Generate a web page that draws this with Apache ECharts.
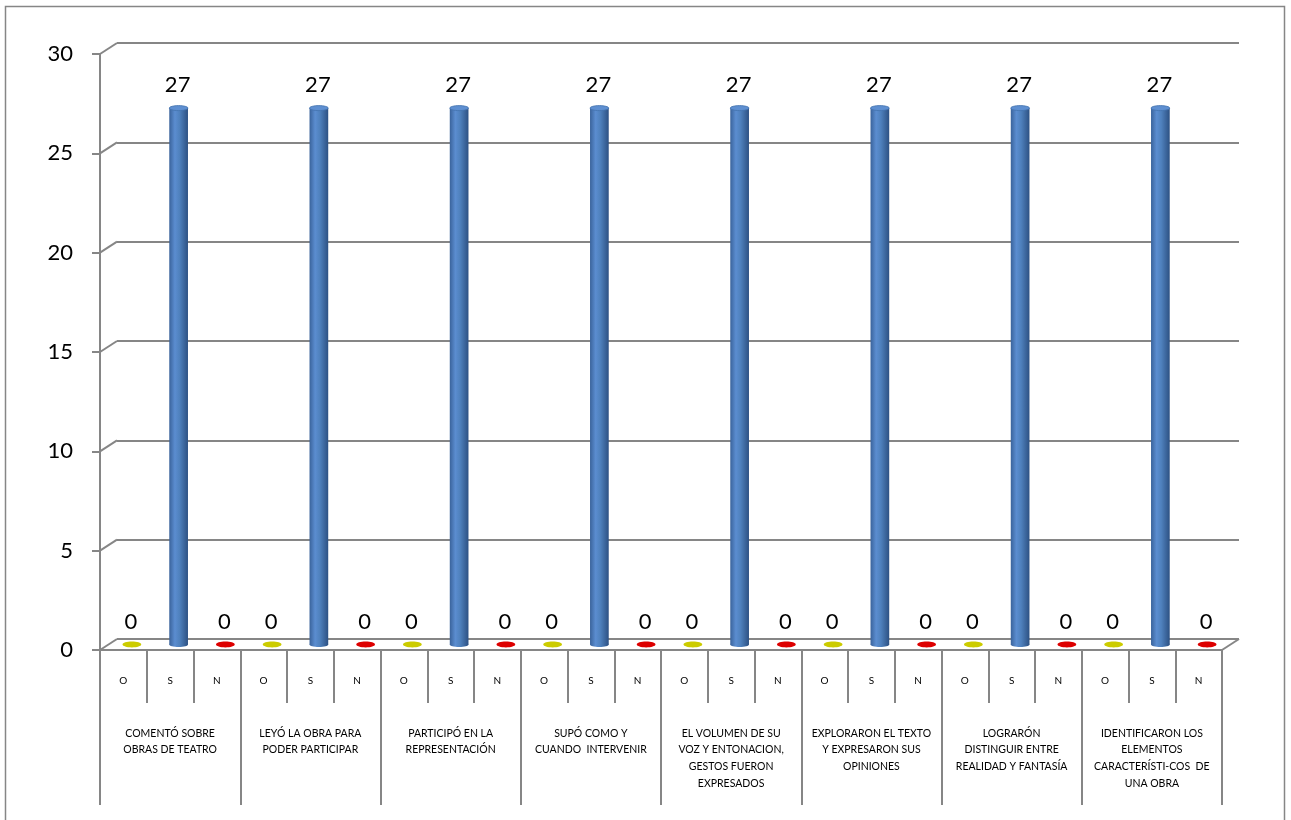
<!DOCTYPE html>
<html><head><meta charset="utf-8">
<script src="https://cdn.jsdelivr.net/npm/echarts@6/dist/echarts.min.js"></script>
<style>html,body{margin:0;padding:0;background:#fff}#c{width:1291px;height:820px}</style>
</head><body><div id="c"></div>
<script>
const groups = [
  'COMENTÓ SOBRE\nOBRAS DE TEATRO',
  'LEYÓ LA OBRA PARA\nPODER PARTICIPAR',
  'PARTICIPÓ EN LA\nREPRESENTACIÓN',
  'SUPÓ COMO Y\nCUANDO  INTERVENIR',
  'EL VOLUMEN DE SU\nVOZ Y ENTONACION,\nGESTOS FUERON\nEXPRESADOS',
  'EXPLORARON EL TEXTO\nY EXPRESARON SUS\nOPINIONES',
  'LOGRARÓN\nDISTINGUIR ENTRE\nREALIDAD Y FANTASÍA',
  'IDENTIFICARON LOS\nELEMENTOS\nCARACTERÍSTI-COS  DE\nUNA OBRA'
];
const subLabels = ['O', 'S', 'N'];
const valuesO = [0, 0, 0, 0, 0, 0, 0, 0];
const valuesS = [27, 27, 27, 27, 27, 27, 27, 27];
const valuesN = [0, 0, 0, 0, 0, 0, 0, 0];
const yTicks = [0, 5, 10, 15, 20, 25, 30];

const seriesValues = [valuesO, valuesS, valuesN];
const subCats = [];
const pointData = [];
groups.forEach((g, i) => {
  subLabels.forEach((s, j) => {
    subCats.push(s);
    pointData.push([subCats.length - 1, seriesValues[j][i], j]);
  });
});

const GRAY = '#868686';
const DX = 17, DY = -11;
const FRONT = { left: 100, top: 54, width: 1122, height: 596 };
const BACK = { left: FRONT.left + DX, top: FRONT.top + DY, width: FRONT.width, height: FRONT.height };
const MID = { left: FRONT.left + DX / 2, top: FRONT.top + DY / 2, width: FRONT.width, height: FRONT.height };
const FONT = 'Lato';

const chart = echarts.init(document.getElementById('c'), null, { renderer: 'canvas' });

const catAxisHidden = (gi) => ({ type: 'category', gridIndex: gi, data: subCats, show: false });
const valAxisHidden = (gi) => ({ type: 'value', gridIndex: gi, min: 0, max: 30, interval: 5, show: false });

function cylFill(j) {
  if (j === 1) {
    return new echarts.graphic.LinearGradient(0, 0, 1, 0, [
      { offset: 0, color: '#3a639b' },
      { offset: 0.3, color: '#5b8dd0' },
      { offset: 0.55, color: '#4f81bd' },
      { offset: 1, color: '#2d5183' }
    ]);
  }
  if (j === 0) return '#cccc00';
  return '#dd0000';
}

chart.setOption({
  animation: false,
  backgroundColor: '#fff',
  graphic: [{
    type: 'rect', shape: { x: 5.5, y: 6.5, width: 1279, height: 840 },
    style: { fill: 'none', stroke: GRAY, lineWidth: 1.5 }, silent: true, z: -10
  }],
  grid: [
    Object.assign({}, BACK, { containLabel: false }),
    Object.assign({}, FRONT, { containLabel: false }),
    Object.assign({}, FRONT, { containLabel: false }),
    Object.assign({}, MID, { containLabel: false })
  ],
  xAxis: [
    catAxisHidden(0),
    {
      type: 'category', gridIndex: 1, data: subCats, position: 'bottom',
      axisLine: { show: true, lineStyle: { color: GRAY, width: 2 } },
      axisTick: { show: true, interval: 0, length: 53, lineStyle: { color: GRAY, width: 2 } },
      axisLabel: { interval: 0, margin: 26, fontSize: 10, color: '#000', fontFamily: FONT }
    },
    {
      type: 'category', gridIndex: 2, data: groups, position: 'bottom',
      axisLine: { show: false },
      axisTick: { show: true, interval: 0, length: 155, lineStyle: { color: GRAY, width: 2 } },
      axisLabel: { interval: 0, margin: 75, fontSize: 10.5, lineHeight: 16.7, color: '#000', fontFamily: FONT, verticalAlign: 'top' }
    },
    catAxisHidden(3)
  ],
  yAxis: [
    {
      type: 'value', gridIndex: 0, min: 0, max: 30, interval: 5,
      axisLine: { show: false }, axisTick: { show: false }, axisLabel: { show: false },
      splitLine: { show: true, lineStyle: { color: GRAY, width: 2 } }
    },
    {
      type: 'value', gridIndex: 1, min: 0, max: 30, interval: 5,
      axisLine: { show: true, lineStyle: { color: GRAY, width: 2 } },
      axisTick: { show: true, length: 8, lineStyle: { color: GRAY, width: 2 } },
      axisLabel: { margin: 27, fontSize: 22, color: '#000', fontFamily: FONT },
      splitLine: { show: false }
    },
    valAxisHidden(2),
    valAxisHidden(3)
  ],
  series: [
    {
      type: 'custom', xAxisIndex: 1, yAxisIndex: 1, clip: false, silent: true,
      data: yTicks.map(v => [0, v]),
      renderItem: function (params, api) {
        const cs = params.coordSys;
        const y = api.coord([0, api.value(1)])[1];
        const children = [{
          type: 'line', shape: { x1: cs.x, y1: y, x2: cs.x + DX, y2: y + DY },
          style: { stroke: GRAY, lineWidth: 2 }
        }];
        if (api.value(1) === 0) {
          children.push({
            type: 'line', shape: { x1: cs.x + cs.width, y1: y, x2: cs.x + cs.width + DX, y2: y + DY },
            style: { stroke: GRAY, lineWidth: 2 }
          });
        }
        return { type: 'group', children: children };
      }
    },
    {
      type: 'custom', xAxisIndex: 3, yAxisIndex: 3, clip: false, silent: true,
      data: pointData,
      renderItem: function (params, api) {
        const idx = api.value(0), v = api.value(1), j = api.value(2);
        const top = api.coord([idx, v]);
        const base = api.coord([idx, 0]);
        const cw = api.size([1, 0])[0];
        const w = cw * 0.4;
        const cx = top[0];
        const children = [];
        if (v > 0) {
          children.push({
            type: 'rect', shape: { x: cx - w / 2, y: top[1], width: w, height: base[1] - top[1] },
            style: { fill: cylFill(j) }
          });
          children.push({
            type: 'ellipse', shape: { cx: cx, cy: base[1], rx: w / 2, ry: 2.5 },
            style: { fill: cylFill(j) }
          });
          children.push({
            type: 'ellipse', shape: { cx: cx, cy: top[1], rx: w / 2, ry: 2.5 },
            style: { fill: '#5e8fd1', stroke: '#4372ad', lineWidth: 0.8 }
          });
        } else {
          children.push({
            type: 'ellipse', shape: { cx: cx, cy: base[1], rx: w / 2, ry: 2.9 },
            style: { fill: cylFill(j) }
          });
        }
        children.push({
          type: 'text',
          style: {
            text: String(v), x: cx - 1, y: top[1] - 23, align: 'center', verticalAlign: 'middle',
            fontSize: 22, fontFamily: FONT, fill: '#000'
          }
        });
        return { type: 'group', children: children };
      }
    }
  ]
});
</script></body></html>
